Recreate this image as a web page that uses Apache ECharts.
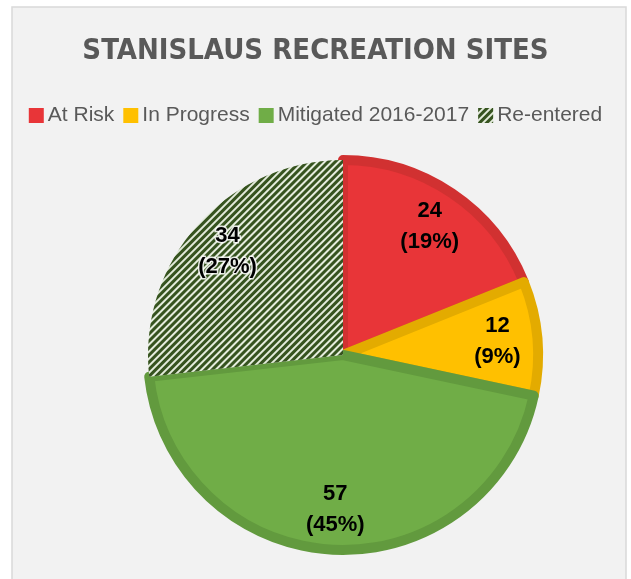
<!DOCTYPE html>
<html>
<head>
<meta charset="utf-8">
<script src="https://cdn.jsdelivr.net/npm/echarts@6/dist/echarts.min.js"></script>
<style>
  html, body { margin: 0; padding: 0; background: #ffffff; }
  #chart { width: 631px; height: 579px; }
</style>
</head>
<body>
<div id="chart"></div>
<script>
const categories = ['At Risk', 'In Progress', 'Mitigated 2016-2017', 'Re-entered'];
const siteCounts = [24, 12, 57, 34];
const fillColors = ['#E83538', '#FFC000', '#70AD47', '#E4ECDC'];
const edgeColors = ['#D13131', '#E3AB00', '#629A3E', '#E4ECDC'];

const chart = echarts.init(document.getElementById('chart'));

// hatch used for the "Re-entered" slice
const hatch = {
  symbol: 'rect',
  symbolSize: 1,
  color: '#36531F',
  dashArrayX: [1, 0],
  dashArrayY: [2.2, 1.8],
  rotation: -Math.PI / 4
};

const sliceData = categories.map((name, i) => ({
  name: name,
  value: siteCounts[i],
  itemStyle: i === 3
    ? { color: fillColors[i], borderWidth: 0, decal: hatch }
    : { color: fillColors[i], borderColor: edgeColors[i], borderWidth: 10 }
}));

const labelData = categories.map((name, i) => ({
  name: name,
  value: siteCounts[i],
  label: i === 3 ? { textBorderColor: 'rgba(255,255,255,0.85)', textBorderWidth: 3 } : {}
}));

let option = {
  backgroundColor: '#ffffff',
  aria: { enabled: false },
  graphic: [{
    type: 'rect',
    z: -10,
    shape: { x: 12, y: 7, width: 614, height: 580 },
    style: { fill: '#F2F2F2', stroke: '#D9D9D9', lineWidth: 1.5 }
  }],
  title: {
    text: 'STANISLAUS RECREATION SITES',
    left: 'center',
    top: 32,
    textStyle: {
      fontFamily: "'Liberation Sans Narrow', 'DejaVu Sans Condensed', sans-serif",
      fontWeight: 'bold',
      fontSize: 29,
      color: '#595959'
    }
  },
  legend: {
    data: categories,
    left: 'center',
    top: 100,
    itemWidth: 15,
    itemHeight: 15,
    itemGap: 9,
    icon: 'rect',
    itemStyle: { borderWidth: 0 },
    textStyle: {
      fontFamily: "'Liberation Sans', sans-serif",
      fontSize: 21,
      color: '#595959',
      padding: [0, 0, 0, -1]
    }
  },
  series: [
    {
      name: 'Sites',
      type: 'pie',
      center: [343, 355],
      radius: [0, 195],
      startAngle: 90,
      clockwise: true,
      silent: true,
      label: { show: false },
      labelLine: { show: false },
      data: sliceData
    },
    {
      name: 'Labels',
      type: 'pie',
      center: [343, 355],
      radius: [104, 200],
      startAngle: 90,
      clockwise: true,
      silent: true,
      percentPrecision: 0,
      itemStyle: { color: 'rgba(0,0,0,0)' },
      label: {
        show: true,
        position: 'inside',
        formatter: '{c}\n({d}%)',
        fontFamily: "'Liberation Sans', sans-serif",
        fontWeight: 'bold',
        fontSize: 22,
        lineHeight: 31,
        color: '#000000'
      },
      labelLine: { show: false },
      data: labelData
    }
  ]
};

if (option && typeof option === 'object') {
  chart.setOption(option, false);
}
</script>
</body>
</html>
